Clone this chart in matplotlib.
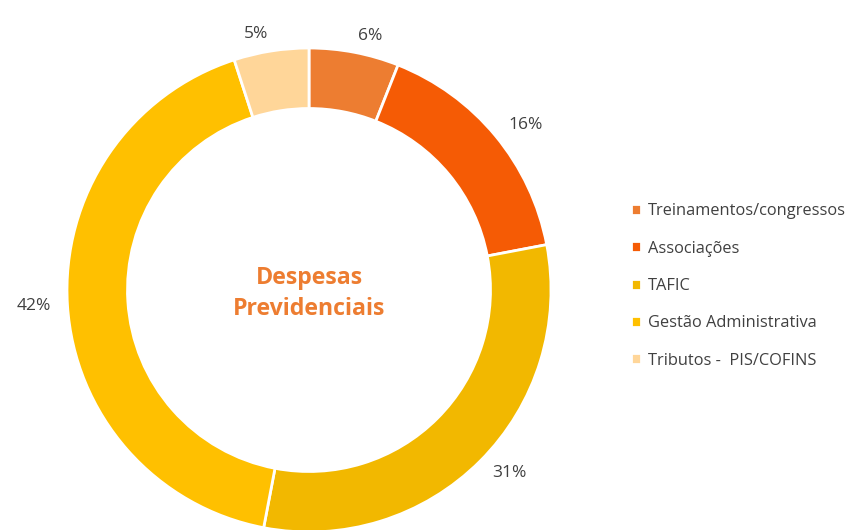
import matplotlib.pyplot as plt

categories = ["Treinamentos/congressos", "Associações", "TAFIC",
              "Gestão Administrativa", "Tributos -  PIS/COFINS"]
values = [6, 16, 31, 42, 5]
colors = ["#ED7D31", "#F55B05", "#F2B800", "#FFC000", "#FFD699"]
title = "Despesas\nPrevidenciais"

plt.rcParams['font.family'] = ['Open Sans', 'DejaVu Sans']

fig = plt.figure(figsize=(8.57, 5.30), dpi=100)
# donut centre ~ (309, 290) px, radius ~242 px
ax = fig.add_axes([67 / 857, -2 / 530, 484 / 857, 484 / 530])

wedges, texts = ax.pie(values, colors=colors, startangle=90, counterclock=False,
                       labels=[f"{v}%" for v in values], labeldistance=1.07,
                       radius=1.0,
                       wedgeprops=dict(width=0.25, edgecolor="white", linewidth=2),
                       textprops=dict(color="#404040", fontsize=12.5))
for t in texts:
    t.set_clip_on(False)
ax.set_xlim(-1, 1)
ax.set_ylim(-1, 1)
ax.set_aspect("equal")

ax.text(0, -0.015, title, ha="center", va="center", fontsize=16.7, fontweight="bold",
        color="#ED7D31", linespacing=1.35)

fig.legend(wedges, categories, loc="center left", bbox_to_anchor=(616 / 857, 1 - 286 / 530),
           frameon=False, handlelength=0.65, handleheight=0.65, handletextpad=0.4,
           labelspacing=1.3, fontsize=11.8, labelcolor="#404040")

fig.savefig("out.png", dpi=100)
